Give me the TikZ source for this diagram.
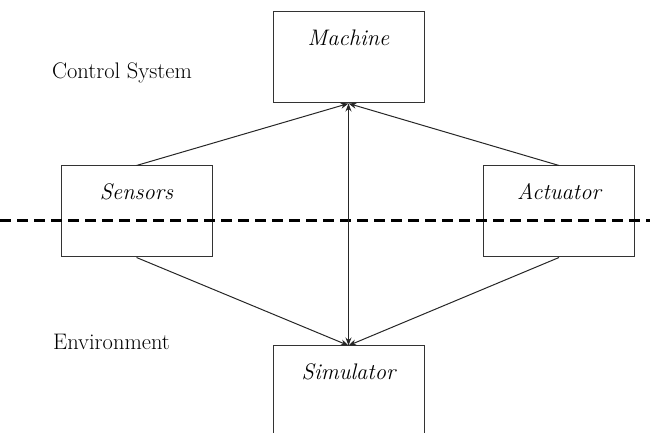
\documentclass[tikz,border=0pt]{standalone}
\usetikzlibrary{arrows.meta}
\begin{document}
\begin{tikzpicture}[x=1pt,y=1pt,
  blk/.style={draw=black!80, line width=1pt, minimum width=151pt, minimum height=91pt, inner sep=0pt},
  lbl/.style={font=\fontsize{22.5}{26}\selectfont\itshape, inner sep=0pt},
  conn/.style={draw=black!85, line width=1pt},
  tip/.style={-{Stealth[length=8pt,width=6pt]}},
  sideText/.style={font=\fontsize{22.5}{26}\selectfont, inner sep=0pt}]
\useasboundingbox (0,0) rectangle (650,433);
\clip (0,0) rectangle (650,433);
% boxes (y = 433 - image y)
\node[blk] (mach) at (348.5,375.5) {};
\node[blk] (sens) at (136.5,221.5) {};
\node[blk] (act) at (559,221.5) {};
\node[blk, minimum height=110pt] (sim) at (348.5,32) {};
\node[lbl] at ([yshift=-26pt]mach.north) {Machine};
\node[lbl] at ([yshift=-26pt]sens.north) {Sensors};
\node[lbl] at ([yshift=-26pt]act.north) {Actuator};
\node[lbl] at ([yshift=-26pt]sim.north) {Simulator};
\node[sideText] (cs) at (122,360) {Control System};
\node[sideText] (env) at (111.5,91) {Environment};
% dashed separator
\coordinate (dl) at (0,212);
\coordinate (dr) at (650,212);
\draw[line width=3pt, dash pattern=on 11pt off 6pt] (dl) -- (dr);
% connectors
\draw[conn, tip] (sens.north) -- (mach.south);
\draw[conn, tip] (act.north) -- (mach.south);
\draw[conn, {Stealth[length=8pt,width=6pt]}-{Stealth[length=8pt,width=6pt]}] (mach.south) -- (sim.north);
\draw[conn, tip] (sens.south) -- (sim.north);
\draw[conn, tip] (act.south) -- (sim.north);
\end{tikzpicture}
\end{document}
